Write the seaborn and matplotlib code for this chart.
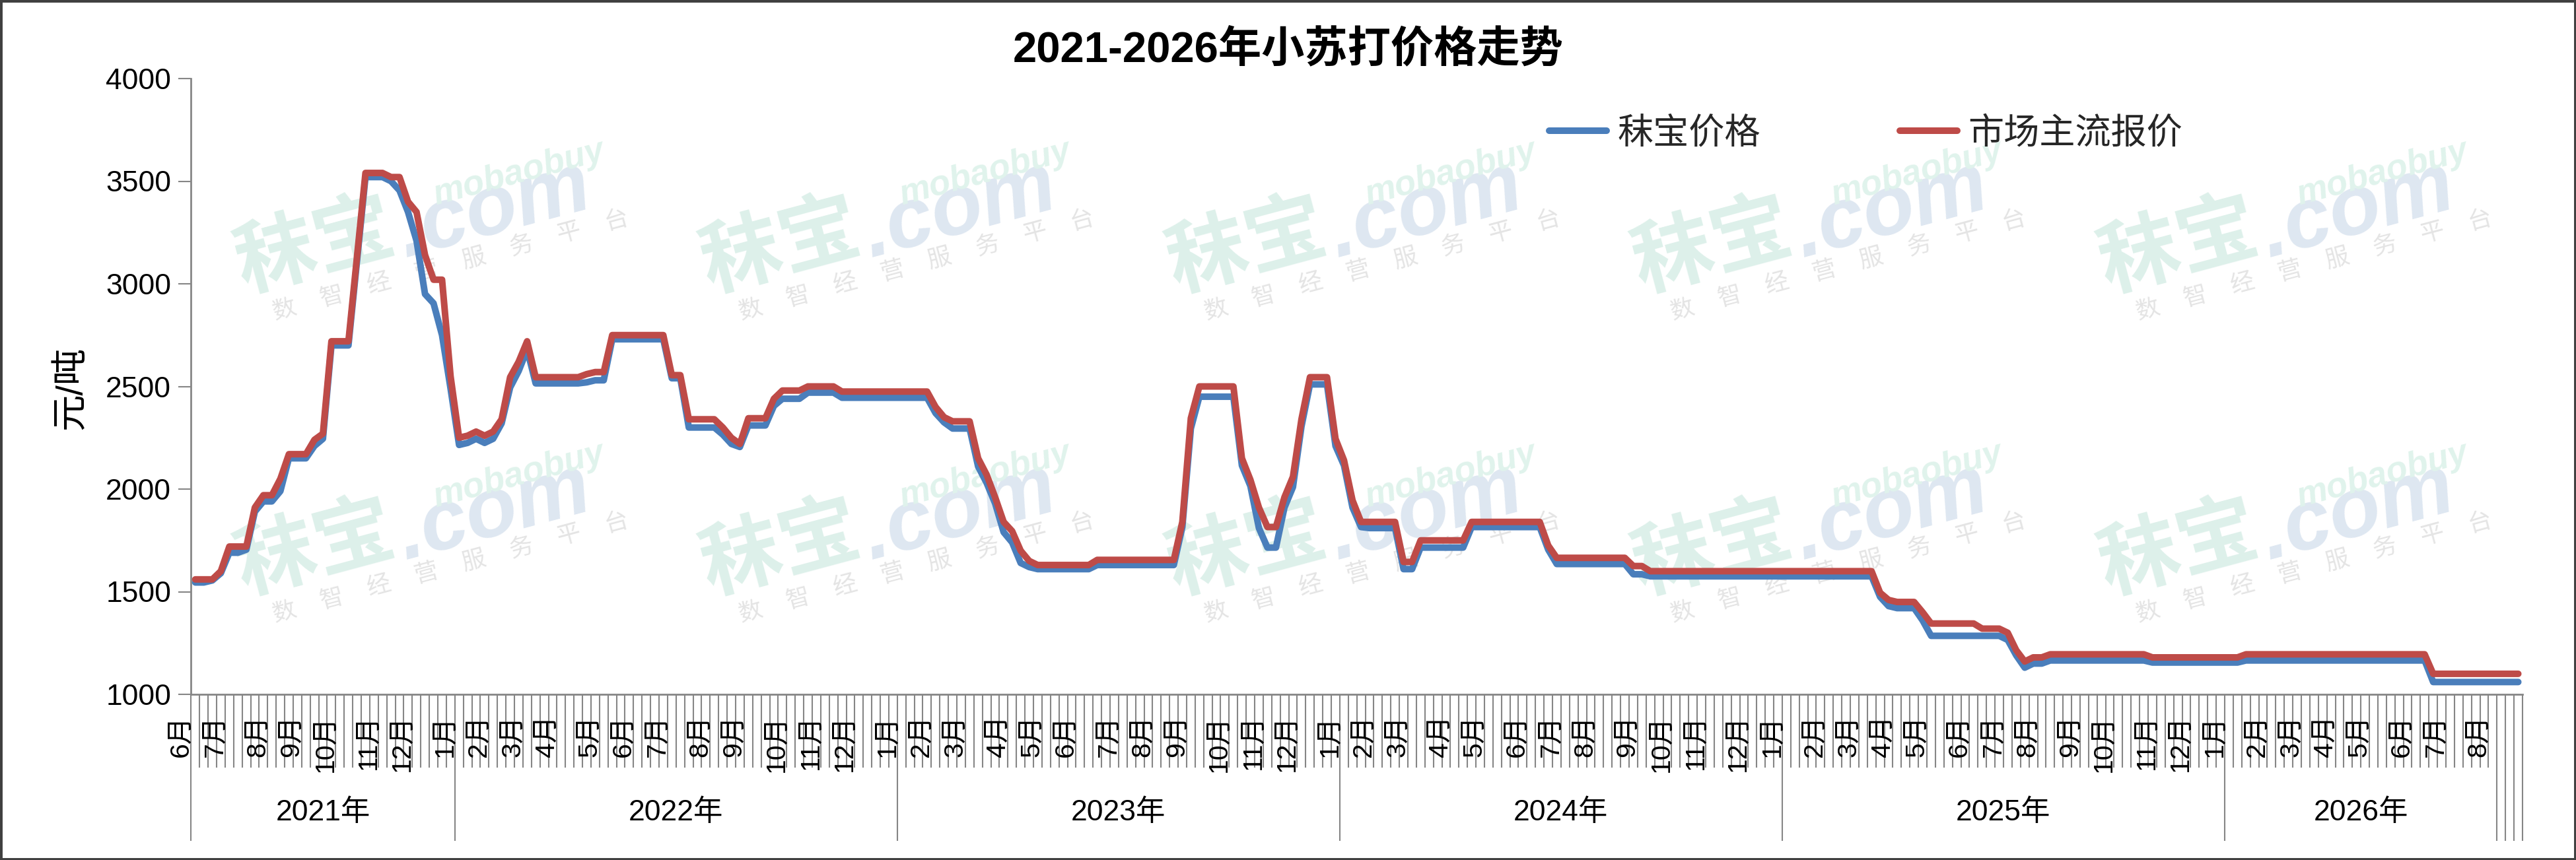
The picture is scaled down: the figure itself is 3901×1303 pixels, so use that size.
import numpy as np
import pandas as pd
import matplotlib
matplotlib.use("Agg")
import matplotlib.pyplot as plt
import matplotlib.transforms as mtransforms
from matplotlib.lines import Line2D
from matplotlib.patches import Rectangle
import seaborn as sns

# ---------------- data ----------------
week_dates = pd.date_range("2021-06-04", periods=274, freq="7D")   # weekly categories (Fridays)

mobao_price = [
    1545, 1545, 1555, 1590, 1690, 1690, 1705, 1890, 1940, 1940,
    1990, 2150, 2150, 2150, 2210, 2245, 2700, 2700, 2700, 3110,
    3520, 3520, 3520, 3500, 3455, 3350, 3210, 2950, 2905, 2750,
    2490, 2215, 2225, 2245, 2225, 2245, 2320, 2495, 2575, 2680,
    2515, 2515, 2515, 2515, 2515, 2515, 2520, 2530, 2530, 2730,
    2730, 2730, 2730, 2730, 2730, 2730, 2540, 2540, 2300, 2300,
    2300, 2300, 2265, 2220, 2205, 2310, 2310, 2310, 2405, 2440,
    2440, 2440, 2470, 2470, 2470, 2470, 2445, 2445, 2445, 2445,
    2445, 2445, 2445, 2445, 2445, 2445, 2445, 2370, 2325, 2295,
    2295, 2295, 2110, 2030, 1930, 1790, 1740, 1640, 1620, 1610,
    1610, 1610, 1610, 1610, 1610, 1610, 1630, 1630, 1630, 1630,
    1630, 1630, 1630, 1630, 1630, 1630, 1815, 2295, 2450, 2450,
    2450, 2450, 2450, 2115, 2015, 1810, 1715, 1715, 1910, 2010,
    2305, 2510, 2510, 2510, 2210, 2115, 1910, 1815, 1810, 1810,
    1810, 1810, 1610, 1610, 1715, 1715, 1715, 1715, 1715, 1715,
    1815, 1815, 1815, 1815, 1815, 1815, 1815, 1815, 1815, 1705,
    1635, 1635, 1635, 1635, 1635, 1635, 1635, 1635, 1635, 1585,
    1585, 1575, 1575, 1575, 1575, 1575, 1575, 1575, 1575, 1575,
    1575, 1575, 1575, 1575, 1575, 1575, 1575, 1575, 1575, 1575,
    1575, 1575, 1575, 1575, 1575, 1575, 1575, 1575, 1475, 1430,
    1420, 1420, 1420, 1360, 1285, 1285, 1285, 1285, 1285, 1285,
    1285, 1285, 1285, 1265, 1190, 1130, 1150, 1150, 1165, 1165,
    1165, 1165, 1165, 1165, 1165, 1165, 1165, 1165, 1165, 1165,
    1155, 1155, 1155, 1155, 1155, 1155, 1155, 1155, 1155, 1155,
    1155, 1165, 1165, 1165, 1165, 1165, 1165, 1165, 1165, 1165,
    1165, 1165, 1165, 1165, 1165, 1165, 1165, 1165, 1165, 1165,
    1165, 1165, 1165, 1060, 1060, 1060, 1060, 1060, 1060, 1060,
    1060, 1060, 1060, 1060,
]

market_price = [
    1560, 1560, 1560, 1600, 1720, 1720, 1720, 1910, 1970, 1970,
    2050, 2170, 2170, 2170, 2240, 2270, 2720, 2720, 2720, 3130,
    3540, 3540, 3540, 3520, 3520, 3400, 3350, 3140, 3020, 3020,
    2550, 2250, 2260, 2280, 2260, 2280, 2340, 2545, 2620, 2720,
    2545, 2545, 2545, 2545, 2545, 2545, 2560, 2570, 2570, 2750,
    2750, 2750, 2750, 2750, 2750, 2750, 2555, 2555, 2340, 2340,
    2340, 2340, 2300, 2250, 2220, 2345, 2345, 2345, 2440, 2480,
    2480, 2480, 2500, 2500, 2500, 2500, 2475, 2475, 2475, 2475,
    2475, 2475, 2475, 2475, 2475, 2475, 2475, 2400, 2350, 2330,
    2330, 2330, 2150, 2070, 1960, 1840, 1795, 1700, 1650, 1630,
    1630, 1630, 1630, 1630, 1630, 1630, 1655, 1655, 1655, 1655,
    1655, 1655, 1655, 1655, 1655, 1655, 1840, 2345, 2500, 2500,
    2500, 2500, 2500, 2150, 2045, 1910, 1815, 1815, 1960, 2060,
    2340, 2545, 2545, 2545, 2245, 2140, 1945, 1840, 1840, 1840,
    1840, 1840, 1645, 1645, 1750, 1750, 1750, 1750, 1750, 1750,
    1840, 1840, 1840, 1840, 1840, 1840, 1840, 1840, 1840, 1725,
    1665, 1665, 1665, 1665, 1665, 1665, 1665, 1665, 1665, 1625,
    1625, 1600, 1600, 1600, 1600, 1600, 1600, 1600, 1600, 1600,
    1600, 1600, 1600, 1600, 1600, 1600, 1600, 1600, 1600, 1600,
    1600, 1600, 1600, 1600, 1600, 1600, 1600, 1600, 1495, 1460,
    1450, 1450, 1450, 1400, 1345, 1345, 1345, 1345, 1345, 1345,
    1320, 1320, 1320, 1300, 1215, 1160, 1180, 1180, 1195, 1195,
    1195, 1195, 1195, 1195, 1195, 1195, 1195, 1195, 1195, 1195,
    1180, 1180, 1180, 1180, 1180, 1180, 1180, 1180, 1180, 1180,
    1180, 1195, 1195, 1195, 1195, 1195, 1195, 1195, 1195, 1195,
    1195, 1195, 1195, 1195, 1195, 1195, 1195, 1195, 1195, 1195,
    1195, 1195, 1195, 1100, 1100, 1100, 1100, 1100, 1100, 1100,
    1100, 1100, 1100, 1100,
]

series_names = ["秣宝价格", "市场主流报价"]
year_labels = ["2021年", "2022年", "2023年", "2024年", "2025年", "2026年"]
year_group_sizes = [31, 52, 52, 52, 52, 32]   # weeks carrying each year label
y_ticks = [1000, 1500, 2000, 2500, 3000, 3500, 4000]
title_text = "2021-2026年小苏打价格走势"
y_label = "元/吨"

assert len(mobao_price) == len(week_dates) == len(market_price)

# ---------------- style ----------------
W, H = 3901, 1303
sns.set_theme(style="white")
plt.rcParams["font.family"] = ["Liberation Sans", "Noto Sans CJK SC", "DejaVu Sans"]
plt.rcParams["axes.unicode_minus"] = False

BLUE = "#4A7EBB"
RED = "#BE4B48"
GRAY = "#868686"

fig = plt.figure(figsize=(W / 100, H / 100), dpi=100)
fig.patch.set_facecolor("white")
ax_left, ax_right, ax_top, ax_bottom = 289.3, 3820.0, 119.0, 1052.0
ax = fig.add_axes([ax_left / W, 1 - ax_bottom / H,
                   (ax_right - ax_left) / W, (ax_bottom - ax_top) / H])
ax.set_facecolor("white")

n = len(week_dates)
df = pd.DataFrame({
    "week": np.concatenate([np.arange(n), np.arange(n)]),
    "price": np.concatenate([mobao_price, market_price]),
    "series": [series_names[0]] * n + [series_names[1]] * n,
})

LW = 7.2
sns.lineplot(data=df[df.series == series_names[0]], x="week", y="price", ax=ax,
             color=BLUE, linewidth=LW, solid_capstyle="round",
             solid_joinstyle="round", zorder=3, legend=False)
sns.lineplot(data=df[df.series == series_names[1]], x="week", y="price", ax=ax,
             color=RED, linewidth=LW, solid_capstyle="round",
             solid_joinstyle="round", zorder=4, legend=False)

ax.set_xlim(-0.5, n - 0.5)
ax.set_ylim(1000, 4000)
ax.set_xlabel("")
ax.set_ylabel("")

# y axis
ax.set_yticks(y_ticks)
ax.set_yticklabels([str(v) for v in y_ticks])
ax.tick_params(axis="y", which="major", length=13.7, width=1.5, color=GRAY,
               pad=8, labelsize=32, labelcolor="black", direction="out", left=True)

# spines
for s in ["top", "right"]:
    ax.spines[s].set_visible(False)
for s in ["left", "bottom"]:
    ax.spines[s].set_color(GRAY)
    ax.spines[s].set_linewidth(2.0)

# x axis: category boundary ticks, year separators
boundaries = np.arange(n + 1) - 0.5
year_edges = np.concatenate([[-0.5], -0.5 + np.cumsum(year_group_sizes)])
long_ticks = np.concatenate([year_edges, boundaries[boundaries > year_edges[-1]]])
ax.set_xticks(long_ticks)
ax.set_xticklabels([""] * len(long_ticks))
ax.set_xticks(boundaries, minor=True)
ax.tick_params(axis="x", which="major", length=160, width=1.5, color=GRAY,
               direction="out", bottom=True)
ax.tick_params(axis="x", which="minor", length=80, width=1.5, color=GRAY,
               direction="out", bottom=True)

# month labels (first week of each month)
trans = mtransforms.blended_transform_factory(ax.transData, ax.transAxes)
months = week_dates.to_period("M")
first_idx = [i for i in range(n) if i == 0 or months[i] != months[i - 1]]
for i in first_idx:
    ax.text(i - 1.7, -0.0332, f"{week_dates[i].month}月", transform=trans,
            rotation=90, ha="center", va="top", fontsize=29.5, color="black")

# year labels
for k, lab in enumerate(year_labels):
    xc = (year_edges[k] + year_edges[k + 1]) / 2
    ax.text(xc, -0.1919, lab, transform=trans, ha="center", va="center",
            fontsize=32, color="black")

# title & y label
fig.text(0.5, 1 - 75 / H, title_text, ha="center", va="center",
         fontsize=47, fontweight="bold", color="black")
fig.text(108 / W, 1 - 588 / H, y_label, rotation=90, ha="center", va="center",
         fontsize=40, color="black")

# legend
handles = [Line2D([0], [0], color=BLUE, lw=LW, solid_capstyle="round"),
           Line2D([0], [0], color=RED, lw=LW, solid_capstyle="round")]
leg = fig.legend(handles, series_names, loc="center left",
                 bbox_to_anchor=(2346 / W, 1 - 203 / H), bbox_transform=fig.transFigure,
                 ncol=2, frameon=False, fontsize=39, handlelength=1.6,
                 handletextpad=0.31, columnspacing=3.9, borderpad=0,
                 borderaxespad=0)

# watermark (background)
def fpos(x, y):
    return x / W, 1 - y / H

small_chars = "数智经营服务平台"
for row_dy in (0, 458):
    for k in range(5):
        bx = 718 + 705.5 * k
        by = 382 + row_dy
        ax.text(*fpos(bx - 240, by - 5), "秣宝", transform=fig.transFigure,
                rotation=15, ha="center", va="center", fontsize=88,
                fontweight="bold", fontstyle="italic", color="#DDF0EA", zorder=0.5)
        ax.text(*fpos(bx + 30, by - 62), ".com", transform=fig.transFigure,
                rotation=15, ha="center", va="center", fontsize=92,
                fontweight="bold", fontstyle="italic", color="#DEE7F1", zorder=0.5)
        ax.text(*fpos(bx + 68, by - 120), "mobaobuy", transform=fig.transFigure,
                rotation=15, ha="center", va="center", fontsize=38,
                fontweight="bold", fontstyle="italic", color="#E0F3EC", zorder=0.5)
        for j, ch in enumerate(small_chars):
            ax.text(*fpos(bx + (j - 4) * 71.7, by + 10 - (j - 4) * 19.3), ch,
                    transform=fig.transFigure, rotation=15, ha="center",
                    va="center", fontsize=26, color="#E4E4E4", zorder=0.5)

# figure border
fig.patches.append(Rectangle((0, 0), 1, 1, transform=fig.transFigure, fill=False,
                             edgecolor="#404040", linewidth=5, zorder=10))

fig.savefig("out.png", dpi=100, facecolor="white")
